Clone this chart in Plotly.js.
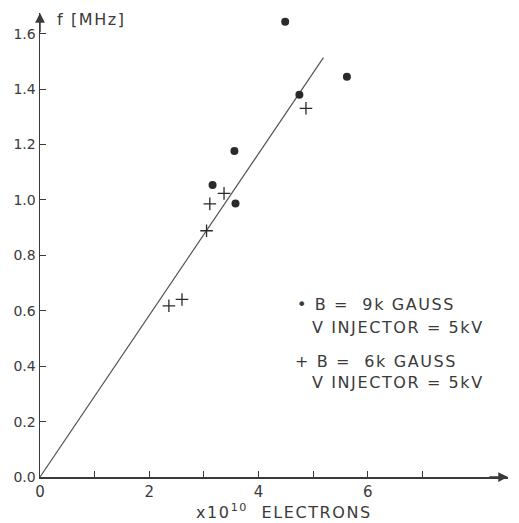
<!DOCTYPE html>
<html><head><meta charset="utf-8">
<script src="https://cdn.plot.ly/plotly-3.0.1.min.js"></script>
<style>html,body{margin:0;padding:0;background:#fff}#chart{width:519px;height:523px}
.annotation-text{letter-spacing:1.6px}</style>
</head><body><div id="chart"></div>
<script>
// Data (x in units of 10^10 electrons, f in MHz)
const dotX = [4.49, 5.62, 4.75, 3.56, 3.16, 3.58];
const dotY = [1.643, 1.445, 1.38, 1.177, 1.054, 0.987];
const crossX = [4.87, 3.37, 3.11, 3.05, 2.36, 2.60];
const crossY = [1.331, 1.024, 0.986, 0.889, 0.618, 0.641];
const fitX = [0, 5.19];
const fitY = [0, 1.514];
const xTickVals = [0, 1, 2, 3, 4, 5, 6, 7];
const xTickText = ["0", "", "2", "", "4", "", "6", ""];
const yTickVals = [0, 0.2, 0.4, 0.6, 0.8, 1.0, 1.2, 1.4, 1.6];
const yTickText = ["0.0", "0.2", "0.4", "0.6", "0.8", "1.0", "1.2", "1.4", "1.6"];

const ink = '#3a3a3a';
const fnt = {family: 'DejaVu Sans, sans-serif', size: 14, color: ink};

const traces = [
  {x: fitX, y: fitY, mode: 'lines', line: {color: '#555', width: 1.2}, hoverinfo: 'skip'},
  {x: dotX, y: dotY, mode: 'markers', marker: {symbol: 'circle', size: 8, color: '#2a2a2a'}},
  {x: crossX, y: crossY, mode: 'markers', marker: {symbol: 'cross-thin-open', size: 9, color: '#2a2a2a', line: {color: '#2a2a2a', width: 1.3}}}
];

const annFont = {family: fnt.family, size: 16, color: ink};
const layout = {
  width: 519, height: 523,
  margin: {l: 40, r: 11, t: 13, b: 46},
  paper_bgcolor: '#fff', plot_bgcolor: '#fff',
  showlegend: false,
  font: fnt,
  xaxis: {range: [0, 8.57], showgrid: false, zeroline: false, showline: true, linecolor: ink, linewidth: 1.5,
          tickmode: 'array', tickvals: xTickVals, ticktext: xTickText, ticks: 'inside', ticklen: 6, tickcolor: ink,
          tickfont: {family: fnt.family, size: 15, color: ink}},
  yaxis: {range: [0, 1.675], showgrid: false, zeroline: false, showline: true, linecolor: ink, linewidth: 1.5,
          tickmode: 'array', tickvals: yTickVals, ticktext: yTickText, ticks: 'inside', ticklen: 6, tickcolor: ink,
          tickfont: {family: fnt.family, size: 14, color: ink}},
  annotations: [
    {xref: 'x', yref: 'y', axref: 'x', ayref: 'y', x: 8.57, y: 0, ax: 8.2, ay: 0, text: '', showarrow: true,
     arrowhead: 2, arrowsize: 1.3, arrowwidth: 1.5, arrowcolor: ink},
    {xref: 'x', yref: 'y', axref: 'x', ayref: 'y', x: 0, y: 1.675, ax: 0, ay: 1.6, text: '', showarrow: true,
     arrowhead: 2, arrowsize: 1.3, arrowwidth: 1.5, arrowcolor: ink},
    {xref: 'paper', yref: 'paper', x: 0.033, y: 0.985, xanchor: 'left', yanchor: 'middle', showarrow: false,
     text: 'f [MHz]', font: annFont},
    {xref: 'paper', yref: 'paper', x: 0.330, y: -0.075, xanchor: 'left', yanchor: 'middle', showarrow: false,
     text: 'x10<sup>10</sup>  ELECTRONS', font: annFont},
    {xref: 'paper', yref: 'paper', x: 0.544, y: 0.371, xanchor: 'left', yanchor: 'middle', showarrow: false,
     text: '• B =  9k GAUSS', font: annFont},
    {xref: 'paper', yref: 'paper', x: 0.577, y: 0.323, xanchor: 'left', yanchor: 'middle', showarrow: false,
     text: 'V INJECTOR = 5kV', font: annFont},
    {xref: 'paper', yref: 'paper', x: 0.54, y: 0.25, xanchor: 'left', yanchor: 'middle', showarrow: false,
     text: '+ B =  6k GAUSS', font: annFont},
    {xref: 'paper', yref: 'paper', x: 0.577, y: 0.2026, xanchor: 'left', yanchor: 'middle', showarrow: false,
     text: 'V INJECTOR = 5kV', font: annFont}
  ]
};
Plotly.newPlot('chart', traces, layout, {displayModeBar: false, staticPlot: true});
</script></body></html>
